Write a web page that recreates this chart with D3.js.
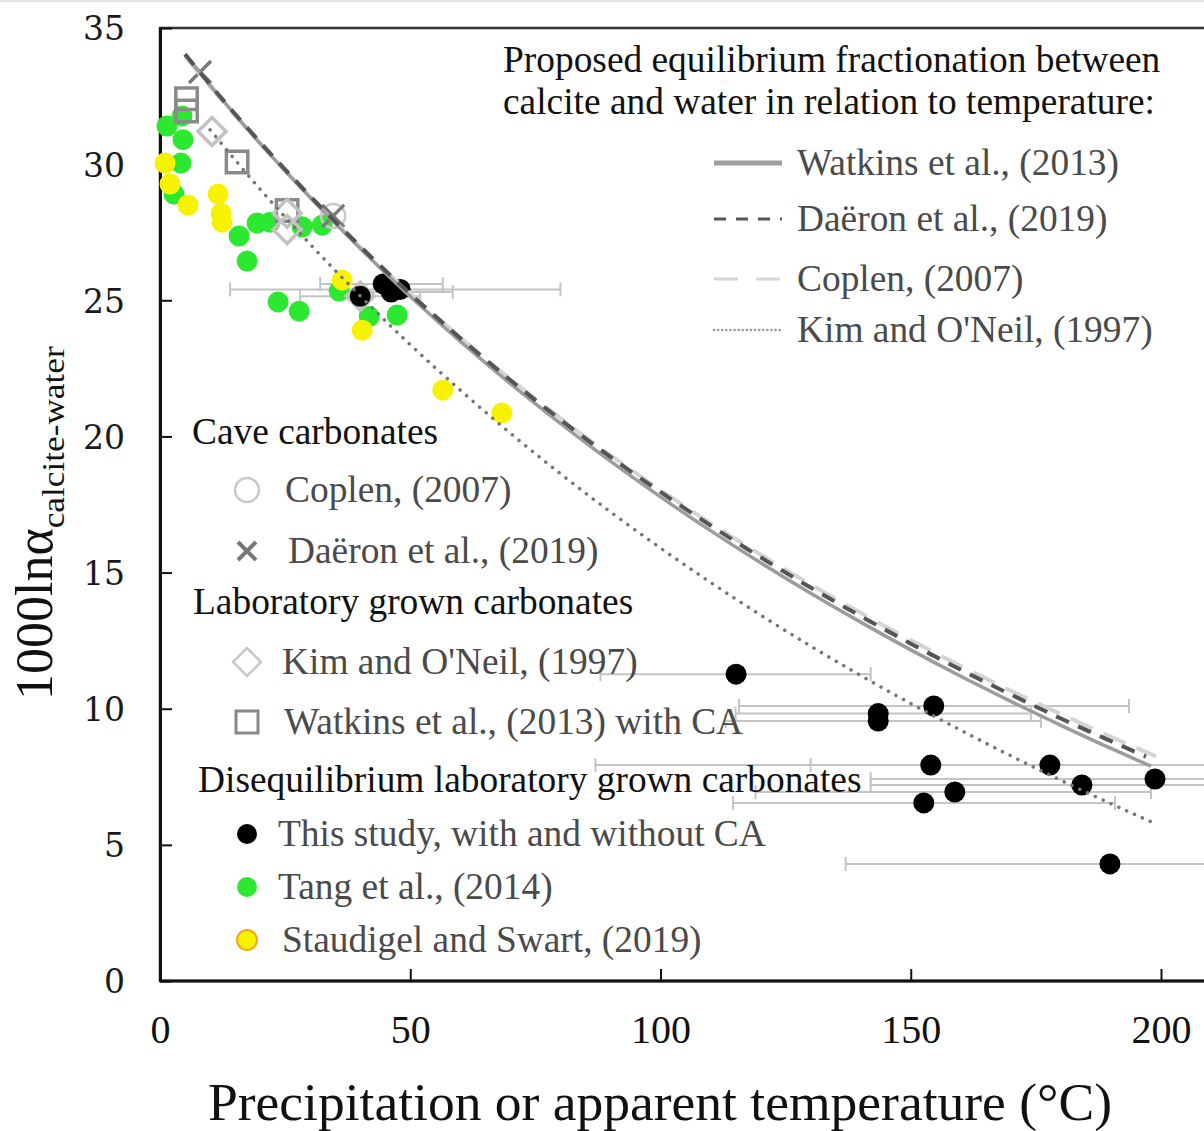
<!DOCTYPE html>
<html>
<head>
<meta charset="utf-8">
<script src="https://cdn.jsdelivr.net/npm/d3@7"></script>
<style>
  html, body { margin: 0; padding: 0; background: #fff; }
  svg { display: block; }
</style>
</head>
<body>
<svg id="chart" width="1204" height="1131"></svg>
<script>
// Equilibrium calcite-water fractionation curves: [temperature °C, 1000 ln alpha]
const watkinsCurve = [[5,34.03],[10,32.90],[20,30.76],[30,28.77],[40,26.90],[50,25.14],[60,23.49],[70,21.94],[80,20.48],[90,19.09],[100,17.78],[110,16.54],[120,15.36],[130,14.24],[140,13.18],[150,12.16],[160,11.19],[170,10.27],[180,9.39],[190,8.54],[198,7.89]];
const daeronCurve = [[5,34.04],[10,32.92],[20,30.81],[30,28.83],[40,26.98],[50,25.24],[60,23.61],[70,22.07],[80,20.62],[90,19.25],[100,17.96],[110,16.73],[120,15.56],[130,14.45],[140,13.40],[150,12.39],[160,11.43],[170,10.52],[180,9.64],[190,8.81],[197,8.24]];
const coplenCurve = [[5,33.96],[10,32.85],[20,30.76],[30,28.80],[40,26.96],[50,25.25],[60,23.63],[70,22.11],[80,20.67],[90,19.31],[100,18.03],[110,16.81],[120,15.66],[130,14.56],[140,13.52],[150,12.52],[160,11.57],[170,10.66],[180,9.80],[190,8.97],[199,8.25]];
const kimCurve = [[10,31.26],[20,29.08],[30,27.06],[40,25.16],[50,23.37],[60,21.70],[70,20.12],[80,18.63],[90,17.23],[100,15.90],[110,14.64],[120,13.44],[130,12.30],[140,11.22],[150,10.19],[160,9.21],[170,8.27],[180,7.37],[190,6.51],[199,5.77]];

// This study: apparent temperature, value, and horizontal error range
const studyPoints = [
  {t:115.1, v:11.27, lo:88,    hi:142},
  {t:154.6, v:10.10, lo:115.7, hi:193.6},
  {t:143.5, v:9.82,  lo:115,   hi:174},
  {t:143.5, v:9.55,  lo:113,   hi:176},
  {t:154.0, v:7.93,  lo:87,    hi:221},
  {t:177.8, v:7.93,  lo:130,   hi:226},
  {t:184.2, v:7.20,  lo:142,   hi:226},
  {t:198.8, v:7.42,  lo:142,   hi:256},
  {t:158.8, v:6.94,  lo:119,   hi:198},
  {t:152.6, v:6.54,  lo:114.5, hi:190.8},
  {t:189.8, v:4.30,  lo:137,   hi:243},
  {t:40.0,  v:25.15, lo:28,    hi:52},
  {t:44.6,  v:25.60, lo:32,    hi:56.5},
  {t:46.2,  v:25.30, lo:37,    hi:58.5},
  {t:48.0,  v:25.40, lo:14,    hi:80}
];

// Literature data
const tangPoints = [[4.4,31.77],[1.4,31.4],[4.6,30.9],[4.2,30.04],[2.8,28.9],[15.8,27.36],[19.4,27.84],[22,27.87],[28.4,27.7],[32.4,27.76],[17.4,26.44],[23.6,24.94],[27.8,24.6],[35.8,25.34],[41.8,24.4],[47.4,24.46]];
const staudigelPoints = [[1,30.04],[2,29.27],[5.6,28.5],[11.6,28.9],[12.2,28.2],[12.4,27.87],[36.4,25.74],[40.4,23.9],[56.5,21.7],[68.3,20.86]];
const kimPoints = [[10.4,31.2],[25.4,28.2],[25.4,27.6],[40,25.15]];
const watkinsPoints = [[5.3,32.4],[5.3,31.95],[15.4,30.08],[25.4,28.3]];
const coplenPoints = [[34.6,28.1]];
const daeronPoints = [[8,33.38],[34.6,28.1]];

const xTicks = [0, 50, 100, 150, 200];
const yTicks = [0, 5, 10, 15, 20, 25, 30, 35];

const serif = "'Liberation Serif', 'Times New Roman', serif";
const svg = d3.select("#chart");
svg.append("rect").attr("width", 1204).attr("height", 1131).attr("fill", "#fff");
svg.append("line").attr("x1", 0).attr("x2", 1204).attr("y1", 1).attr("y2", 1)
  .attr("stroke", "#e2e2e2").attr("stroke-width", 2);

const x = d3.scaleLinear().domain([0, 200]).range([160, 1161]);
const y = d3.scaleLinear().domain([0, 35]).range([981, 28]);
const xMax = 210;

// Plot frame
svg.append("rect")
  .attr("x", x(0)).attr("y", y(35))
  .attr("width", x(xMax) - x(0)).attr("height", y(0) - y(35))
  .attr("fill", "none").attr("stroke", "#333").attr("stroke-width", 2.5);

// Axes with inward ticks
const xAxis = svg.append("g").attr("transform", `translate(0,${y(0)})`)
  .call(d3.axisBottom(x).tickValues(xTicks).tickSizeInner(-12).tickSizeOuter(0).tickPadding(34));
xAxis.select(".domain").attr("stroke", "#111").attr("stroke-width", 3)
  .attr("d", `M${x(0)},0H${x(xMax)}`);
xAxis.selectAll(".tick line").attr("stroke", "#111").attr("stroke-width", 2);
xAxis.selectAll(".tick text").attr("font-family", serif).attr("font-size", 40)
  .attr("fill", "#111").attr("dy", "0.71em");

const yAxis = svg.append("g").attr("transform", `translate(${x(0)},0)`)
  .call(d3.axisLeft(y).tickValues(yTicks).tickSizeInner(-12).tickSizeOuter(0).tickPadding(35));
yAxis.select(".domain").attr("stroke", "#111").attr("stroke-width", 3);
yAxis.selectAll(".tick line").attr("stroke", "#111").attr("stroke-width", 2);
yAxis.selectAll(".tick text").attr("font-family", "'DejaVu Serif', serif").attr("font-size", 33)
  .attr("fill", "#1a1a1a").attr("dy", "0.36em");

// Axis titles
svg.append("text")
  .attr("x", 660).attr("y", 1120).attr("text-anchor", "middle")
  .attr("font-family", serif).attr("font-size", 52).attr("fill", "#111")
  .attr("textLength", 904).attr("lengthAdjust", "spacingAndGlyphs")
  .text("Precipitation or apparent temperature (°C)");

const yTitle = svg.append("text")
  .attr("transform", "translate(52,700) rotate(-90)")
  .attr("font-family", serif).attr("fill", "#111");
yTitle.append("tspan").attr("font-size", 52).text("1000lnα");
yTitle.append("tspan").attr("font-size", 31).attr("dy", 12)
  .attr("textLength", 182).attr("lengthAdjust", "spacingAndGlyphs").text("calcite-water");

// Error bars
const bars = svg.append("g").attr("stroke", "#c4c4c4").attr("stroke-width", 2);
studyPoints.forEach(d => {
  const yy = y(d.v);
  bars.append("line").attr("x1", x(d.lo)).attr("x2", x(d.hi)).attr("y1", yy).attr("y2", yy);
  [d.lo, d.hi].forEach(e => bars.append("line")
    .attr("x1", x(e)).attr("x2", x(e)).attr("y1", yy - 7).attr("y2", yy + 7));
});

// Markers
const green = "#2de830", yellow = "#f7f200";
svg.append("g").selectAll("circle").data(tangPoints).join("circle")
  .attr("cx", d => x(d[0])).attr("cy", d => y(d[1])).attr("r", 10.5).attr("fill", green);
svg.append("g").selectAll("circle").data(staudigelPoints).join("circle")
  .attr("cx", d => x(d[0])).attr("cy", d => y(d[1])).attr("r", 10.5).attr("fill", yellow);

const squareSym = d3.symbol().type(d3.symbolSquare).size(460);
const diamondPath = s => `M0,${-s}L${s},0L0,${s}L${-s},0Z`;
svg.append("g").selectAll("path").data(watkinsPoints).join("path")
  .attr("transform", d => `translate(${x(d[0])},${y(d[1])})`)
  .attr("d", squareSym()).attr("fill", "none").attr("stroke", "#8a8a8a").attr("stroke-width", 3.5);
svg.append("g").selectAll("path").data(kimPoints).join("path")
  .attr("transform", d => `translate(${x(d[0])},${y(d[1])})`)
  .attr("d", diamondPath(14)).attr("fill", "none").attr("stroke", "#c2c2c2").attr("stroke-width", 3.5);
svg.append("g").selectAll("circle").data(coplenPoints).join("circle")
  .attr("cx", d => x(d[0])).attr("cy", d => y(d[1])).attr("r", 12)
  .attr("fill", "none").attr("stroke", "#c8c8c8").attr("stroke-width", 2.5);
const crossPath = s => `M${-s},${-s}L${s},${s}M${-s},${s}L${s},${-s}`;
svg.append("g").selectAll("path").data(daeronPoints).join("path")
  .attr("transform", d => `translate(${x(d[0])},${y(d[1])})`)
  .attr("d", crossPath(11)).attr("stroke", "#7a7a7a").attr("stroke-width", 3.5);
svg.append("g").selectAll("circle").data(studyPoints).join("circle")
  .attr("cx", d => x(d.t)).attr("cy", d => y(d.v)).attr("r", 10.5).attr("fill", "#000");

// Equilibrium curves
const line = d3.line().x(d => x(d[0])).y(d => y(d[1])).curve(d3.curveMonotoneX);
const curves = [
  {data: coplenCurve,  stroke: "#d4d4d4", width: 4,   dash: "24 12", cap: "butt"},
  {data: watkinsCurve, stroke: "#9c9c9c", width: 3.5, dash: null,    cap: "butt"},
  {data: daeronCurve,  stroke: "#555",    width: 4,   dash: "14 10", cap: "butt"},
  {data: kimCurve,     stroke: "#777",    width: 3.5, dash: "0.1 8.5", cap: "round"}
];
curves.forEach(c => {
  svg.append("path").datum(c.data).attr("d", line).attr("fill", "none")
    .attr("stroke", c.stroke).attr("stroke-width", c.width)
    .attr("stroke-dasharray", c.dash).attr("stroke-linecap", c.cap);
});

// Curve legend (top right)
const fs = 37.4;
const leg = svg.append("g").attr("font-family", serif).attr("font-size", fs);
leg.append("text").attr("x", 503).attr("y", 72).attr("fill", "#111")
  .text("Proposed equilibrium fractionation between");
leg.append("text").attr("x", 503).attr("y", 114).attr("fill", "#111")
  .text("calcite and water in relation to temperature:");
const curveLegend = [
  {label: "Watkins et al., (2013)", y: 163, stroke: "#a0a0a0", width: 5,   dash: null,    cap: "butt"},
  {label: "Daëron et al., (2019)",  y: 219, stroke: "#555",    width: 3,   dash: "12 10", cap: "butt"},
  {label: "Coplen, (2007)",         y: 279, stroke: "#d6d6d6", width: 3,   dash: "24 18", cap: "butt"},
  {label: "Kim and O'Neil, (1997)", y: 330, stroke: "#999",    width: 2.5, dash: "0.1 4", cap: "round"}
];
curveLegend.forEach(c => {
  leg.append("line").attr("x1", 714).attr("x2", 782).attr("y1", c.y).attr("y2", c.y)
    .attr("stroke", c.stroke).attr("stroke-width", c.width)
    .attr("stroke-dasharray", c.dash).attr("stroke-linecap", c.cap);
  leg.append("text").attr("x", 797).attr("y", c.y + 12).attr("fill", "#4a4a4a").text(c.label);
});

// Data legend (left)
const leg2 = svg.append("g").attr("font-family", serif).attr("font-size", fs);
const headers = [
  {label: "Cave carbonates", x: 192, y: 444},
  {label: "Laboratory grown carbonates", x: 193, y: 614},
  {label: "Disequilibrium laboratory grown carbonates", x: 198, y: 792}
];
headers.forEach(h => leg2.append("text").attr("x", h.x).attr("y", h.y).attr("fill", "#111").text(h.label));

const items = [
  {label: "Coplen, (2007)", y: 490, tx: 285, kind: "circle"},
  {label: "Daëron et al., (2019)", y: 551, tx: 288, kind: "cross"},
  {label: "Kim and O'Neil, (1997)", y: 662, tx: 282, kind: "diamond"},
  {label: "Watkins et al., (2013) with CA", y: 722, tx: 284, kind: "square"},
  {label: "This study, with and without CA", y: 834, tx: 278, kind: "black"},
  {label: "Tang et al., (2014)", y: 887, tx: 278, kind: "green"},
  {label: "Staudigel and Swart, (2019)", y: 940, tx: 282, kind: "yellow"}
];
items.forEach(it => {
  const g = leg2.append("g").attr("transform", `translate(247,${it.y})`);
  if (it.kind === "circle") g.append("circle").attr("r", 12).attr("fill", "none").attr("stroke", "#c8c8c8").attr("stroke-width", 2.5);
  if (it.kind === "cross") g.append("path").attr("d", crossPath(9)).attr("stroke", "#777").attr("stroke-width", 4);
  if (it.kind === "diamond") g.append("path").attr("d", diamondPath(14)).attr("fill", "none").attr("stroke", "#c8c8c8").attr("stroke-width", 2.5);
  if (it.kind === "square") g.append("rect").attr("x", -11).attr("y", -11).attr("width", 22).attr("height", 22).attr("fill", "none").attr("stroke", "#888").attr("stroke-width", 3);
  if (it.kind === "black") g.append("circle").attr("r", 10).attr("fill", "#000");
  if (it.kind === "green") g.append("circle").attr("r", 10).attr("fill", green);
  if (it.kind === "yellow") g.append("circle").attr("r", 10).attr("fill", yellow).attr("stroke", "#f5a623").attr("stroke-width", 2);
  leg2.append("text").attr("x", it.tx).attr("y", it.y + 12).attr("fill", "#4a4a4a").text(it.label);
});
</script>
</body>
</html>
